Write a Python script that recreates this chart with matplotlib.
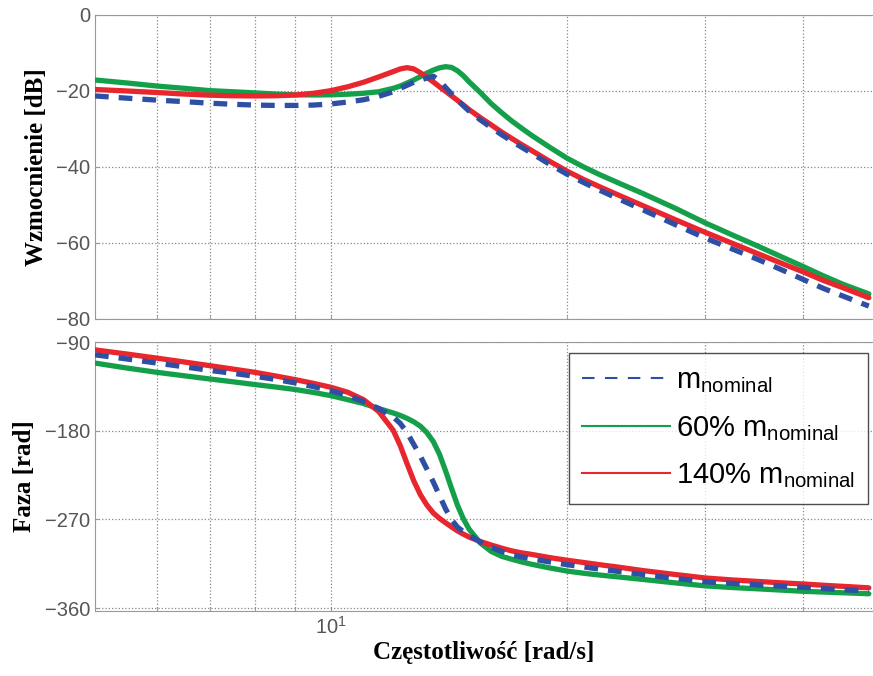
import numpy as np
import matplotlib
matplotlib.use("Agg")
import matplotlib.pyplot as plt
from matplotlib.ticker import NullFormatter, FixedLocator
from matplotlib.lines import Line2D

plt.rcParams['font.family'] = ['Liberation Sans', 'DejaVu Sans']
plt.rcParams['mathtext.fontset'] = 'custom'
plt.rcParams['mathtext.rm'] = 'Liberation Sans'
plt.rcParams['mathtext.it'] = 'Liberation Sans'

# frequency grid [rad/s]
freq = [5, 5.5, 6, 6.5, 7, 7.5, 8, 8.5, 9, 9.5, 10, 10.5, 11, 11.5, 12, 12.25,
        12.5, 12.75, 13, 13.25, 13.5, 13.75, 14, 14.25, 14.5, 14.75, 15, 15.5,
        16, 16.5, 17, 17.5, 18, 19, 20, 21, 22, 23.5, 25, 27.5, 30, 32.5, 35,
        37.5, 40, 42.5, 45, 48.5]

# magnitude [dB]
mag_nom = [-21.3, -21.9, -22.4, -22.8, -23.2, -23.5, -23.7, -23.8, -23.8, -23.7,
           -23.4, -22.9, -22.3, -21.4, -20.2, -19.3, -18.5, -17.7, -17.1, -16.6,
           -16.1, -17.3, -19.1, -20.8, -22.4, -23.9, -25.3, -27.6, -29.6, -31.5,
           -33.2, -34.8, -36.3, -39.3, -41.9, -44.1, -46.1, -48.8, -51.3, -55.2,
           -58.7, -61.6, -64.3, -67.0, -69.6, -72.0, -74.0, -76.6]
mag_60 = [-17.1, -17.9, -18.7, -19.3, -19.9, -20.2, -20.5, -20.8, -21.0, -21.05,
          -21.0, -20.85, -20.6, -20.2, -19.3, -18.7, -17.9, -17.1, -16.2, -15.3,
          -14.5, -13.9, -13.6, -13.8, -14.7, -16.0, -17.6, -20.4, -23.3, -25.7,
          -27.9, -29.8, -31.6, -34.8, -37.7, -40.0, -42.0, -44.6, -47.0, -50.9,
          -54.7, -57.9, -60.8, -63.6, -66.2, -68.7, -70.9, -73.4]
mag_140 = [-19.6, -20.0, -20.4, -20.8, -21.1, -21.25, -21.3, -21.25, -21.05, -20.6,
           -19.9, -18.9, -17.7, -16.3, -14.9, -14.2, -13.85, -14.2, -15.2, -16.4,
           -17.6, -18.9, -20.1, -21.3, -22.5, -23.7, -24.9, -27.0, -28.9, -30.8,
           -32.5, -34.1, -35.6, -38.5, -41.1, -43.3, -45.2, -47.8, -50.2, -53.9,
           -57.2, -60.1, -62.8, -65.3, -67.6, -69.9, -71.8, -74.4]

# phase
ph_nom = [-103, -107.3, -111.4, -115.2, -118.8, -121.8, -124.8, -128, -131.5, -135.3,
          -139.5, -144.5, -150.5, -157.5, -166, -172.5, -182, -194, -206, -219,
          -232, -246, -259.5, -270.5, -278, -282.5, -286, -293, -298.5, -302.5,
          -306, -308.2, -310, -313.2, -316, -318.3, -320.5, -323.3, -326, -330,
          -333.3, -335, -336.5, -337.8, -339, -340.3, -341.5, -342.5]
ph_60 = [-111.4, -116.5, -120.8, -124.3, -127.5, -130.4, -133.2, -135.7, -138.2, -141.2,
         -144.5, -148.5, -152.5, -157.5, -162, -164.5, -167.5, -171, -175.5, -182,
         -191, -204, -221, -239, -256, -269.5, -280, -294, -302.5, -307.5,
         -310.5, -313.2, -315.5, -319.3, -322.5, -324.7, -326.5, -328.8, -331, -334.5,
         -337.5, -339.2, -340.5, -341.8, -343, -343.8, -344.5, -345.5]
ph_140 = [-98, -102.3, -106.4, -110.3, -114, -117.5, -120.8, -124.5, -128.2, -132,
          -136, -141, -148.5, -160.5, -179.5, -195, -213.5, -231, -245, -255.5,
          -263.5, -269, -273.5, -277.8, -281.8, -285, -288, -292.5, -296, -299.2,
          -302, -304, -305.5, -308.8, -311.5, -313.8, -316, -319, -322, -326,
          -329.5, -331.5, -333, -334.4, -335.6, -336.9, -338, -339.5]

labels = [r'm$_{\mathrm{nominal}}$', r'60% m$_{\mathrm{nominal}}$', r'140% m$_{\mathrm{nominal}}$']
c_blue = '#2e4fa3'
c_green = '#14a04a'
c_red = '#e8262d'

fig = plt.figure(figsize=(8.73, 6.76), dpi=100)
ax1 = fig.add_axes([95/873, 1-319/676, 778/873, 304/676])
ax2 = fig.add_axes([95/873, 1-611/676, 778/873, 269/676])

dash = (0, (2.6, 1.9))
for ax, yn, y6, y14 in [(ax1, mag_nom, mag_60, mag_140), (ax2, ph_nom, ph_60, ph_140)]:
    ax.plot(freq, y6, color=c_green, lw=3.8, zorder=3, solid_capstyle='round')
    ax.plot(freq, y14, color=c_red, lw=3.8, zorder=4, solid_capstyle='round')
    ax.plot(freq, yn, color=c_blue, lw=3.8, ls=dash, zorder=5)
    ax.set_xscale('log')
    ax.set_xlim(5, 49.1)
    ax.xaxis.set_minor_locator(FixedLocator([6, 7, 8, 9, 20, 30, 40]))
    ax.xaxis.set_minor_formatter(NullFormatter())
    ax.grid(True, which='both', axis='x', ls=':', color='#888888', lw=0.9)
    ax.grid(True, which='major', axis='y', ls=':', color='#888888', lw=0.9)
    ax.tick_params(which='both', direction='in', length=3, color='#999999',
                   labelsize=14.5, labelcolor='#555555', right=False, top=False)
    for s in ax.spines.values():
        s.set_color('#999999')
    ax.spines['right'].set_visible(False)

ax1.set_ylim(-80, 0)
ax1.set_yticks([-80, -60, -40, -20, 0])
ax1.tick_params(axis='x', labelbottom=False)
ax1.set_ylabel('Wzmocnienie [dB]', family='Liberation Serif', fontweight='bold',
               fontsize=18, labelpad=6)

ax2.set_ylim(-363, -90)
ax2.set_yticks([-360, -270, -180, -90])
ax2.set_ylabel('Faza [rad]', family='Liberation Serif', fontweight='bold',
               fontsize=18, labelpad=6)
ax2.set_xlabel('Częstotliwość [rad/s]', family='Liberation Serif', fontweight='bold',
               fontsize=18, labelpad=2)

handles = [Line2D([], [], color=c_blue, lw=1.5, ls=(0, (6, 5))),
           Line2D([], [], color=c_green, lw=1.5),
           Line2D([], [], color=c_red, lw=1.5)]
leg = ax2.legend(handles, labels, loc='upper right', bbox_to_anchor=(0.9936, 0.959),
                 fontsize=21, frameon=True, fancybox=False, edgecolor='#222222',
                 handlelength=3.0, handletextpad=0.2, labelspacing=0.65,
                 borderpad=0.45, borderaxespad=0)
leg.get_frame().set_linewidth(1.0)

fig.savefig('out.png', dpi=100)
